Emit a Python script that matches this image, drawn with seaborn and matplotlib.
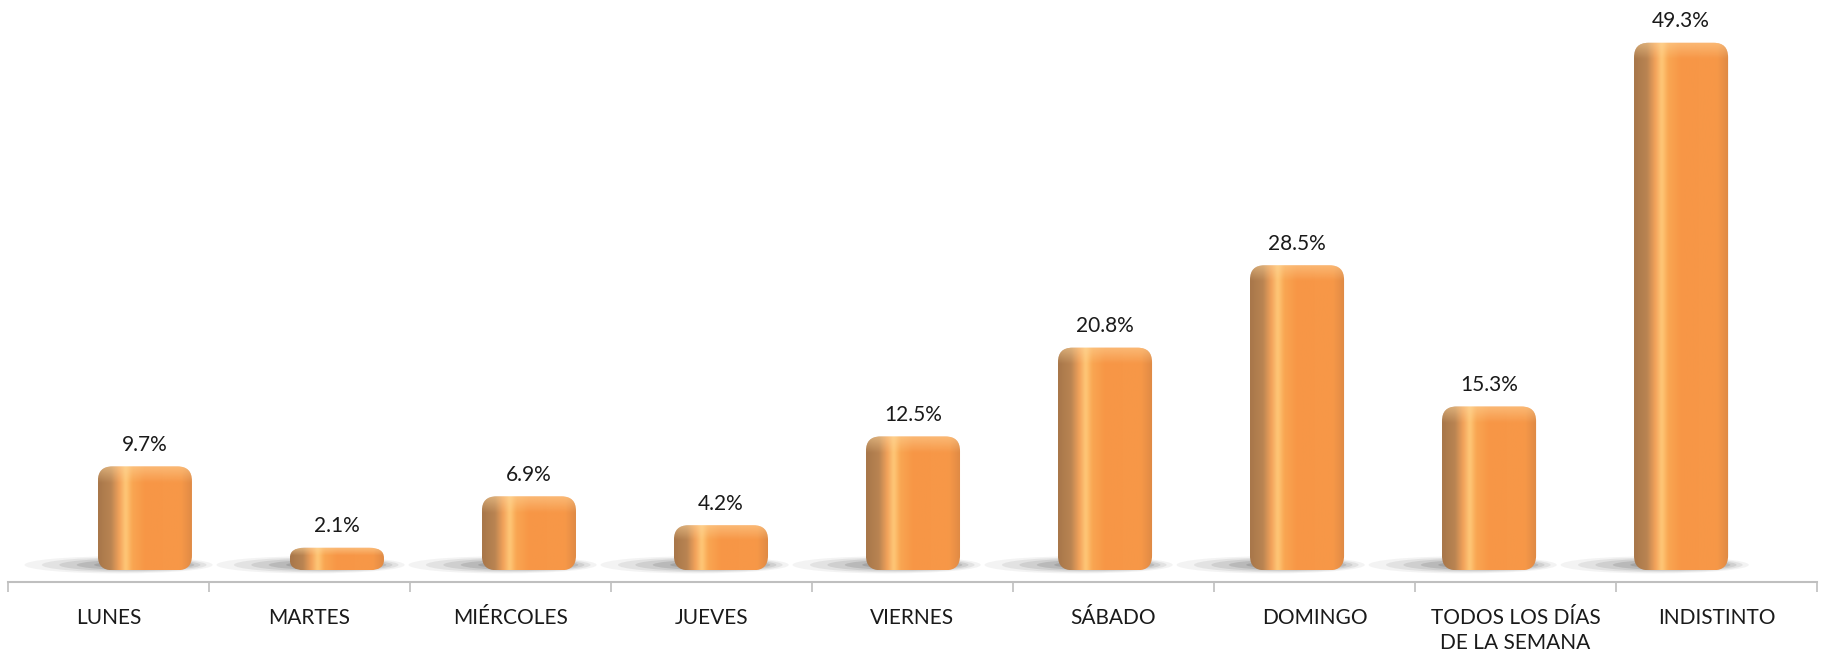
import numpy as np
import pandas as pd
import matplotlib
matplotlib.use("Agg")
import matplotlib.pyplot as plt
from matplotlib.patches import FancyBboxPatch, Ellipse
from matplotlib.colors import to_rgb
import seaborn as sns

sns.set_theme(style="white")
plt.rcParams['font.family'] = ['Lato', 'DejaVu Sans']

categories = ["LUNES", "MARTES", "MIÉRCOLES", "JUEVES", "VIERNES", "SÁBADO",
              "DOMINGO", "TODOS LOS DÍAS\nDE LA SEMANA", "INDISTINTO"]
values = [9.7, 2.1, 6.9, 4.2, 12.5, 20.8, 28.5, 15.3, 49.3]
value_labels = ["9.7%", "2.1%", "6.9%", "4.2%", "12.5%", "20.8%", "28.5%", "15.3%", "49.3%"]

df = pd.DataFrame({"dia": categories, "pct": values})

W, H = 1825, 653
fig = plt.figure(figsize=(W / 100, H / 100), dpi=100)
rect = [8 / W, 71 / H, 1809 / W, 582 / H]

# axis with category labels and tick marks
ax_lab = fig.add_axes(rect)
ax_lab.set_xlim(-0.5, len(categories) - 0.5)
ax_lab.set_ylim(0, 1)
for s in ["top", "left", "right"]:
    ax_lab.spines[s].set_visible(False)
ax_lab.spines["bottom"].set_color("#BFBFBF")
ax_lab.spines["bottom"].set_linewidth(1.5)
ax_lab.set_yticks([])
ax_lab.set_xticks(np.arange(-0.5, len(categories), 1.0))
ax_lab.set_xticklabels([])
ax_lab.tick_params(axis="x", which="major", length=7, width=1.2, color="#BFBFBF",
                   direction="out", bottom=True)
ax_lab.set_xticks(np.arange(len(categories)), minor=True)
ax_lab.set_xticklabels(categories, minor=True, fontsize=15, color="#1a1a1a",
                       va="top", linespacing=1.3)
ax_lab.tick_params(axis="x", which="minor", length=0, pad=19)

# bars axis (slightly narrower spacing for the perspective look)
ax = fig.add_axes(rect)
ax.patch.set_alpha(0)
sns.barplot(data=df, x="dia", y="pct", color="#F79646", width=0.49, ax=ax,
            saturation=1)
ax.set_xlim(-0.713, 8.708)
ax.set_ylim(-1.1, 53.3)
ax.set_autoscale_on(False)
ax.axis("off")

stops = [(0.0, "#A8774A"), (0.13, "#B98452"), (0.22, "#F2A25A"), (0.29, "#FFC878"),
         (0.36, "#F9A652"), (0.50, "#F79646"), (0.88, "#F79848"), (1.0, "#DF8A45")]
xs = np.linspace(0, 1, 64)
grad = np.zeros((1, 64, 3))
for c in range(3):
    grad[0, :, c] = np.interp(xs, [s[0] for s in stops], [to_rgb(s[1])[c] for s in stops])

for bar in list(ax.patches):
    x0, y0 = bar.get_x(), bar.get_y()
    w, h = bar.get_width(), bar.get_height()
    bar.set_visible(False)
    # soft shadow at base, thrown to the left
    for k, a in enumerate([0.08, 0.12, 0.16, 0.22, 0.28]):
        sh = Ellipse((x0 + w * (0.22 + 0.06 * k), 0.5), w * (2.0 - 0.25 * k), 1.6 - 0.22 * k,
                     facecolor="#6f6f6f", edgecolor="none", alpha=a, zorder=1)
        ax.add_patch(sh)
    r = 0.075
    fb = FancyBboxPatch((x0, y0), w, h,
                        boxstyle=f"round,pad=0,rounding_size={r}",
                        mutation_aspect=min(18.0, h / (2 * r) * 0.9),
                        facecolor="none", edgecolor="none", zorder=2)
    ax.add_patch(fb)
    im = ax.imshow(grad, extent=(x0, x0 + w, y0, y0 + h), aspect="auto",
                   zorder=2, interpolation="bicubic")
    im.set_clip_path(fb)
    # top cap highlight
    cap_h = min(1.6, h * 0.35)
    cap = np.zeros((8, 1, 4))
    cap[:, 0, :3] = to_rgb("#FFD9A0")
    cap[:, 0, 3] = np.linspace(0.0, 0.5, 8)
    im2 = ax.imshow(cap, extent=(x0, x0 + w, y0 + h - cap_h, y0 + h),
                    aspect="auto", zorder=3, interpolation="bicubic", origin="lower")
    im2.set_clip_path(fb)

for i, (v, lab) in enumerate(zip(values, value_labels)):
    ax.text(i, v + 2.0, lab, ha="center", va="center", fontsize=15, color="#1a1a1a")

fig.savefig("out.png", dpi=100)
